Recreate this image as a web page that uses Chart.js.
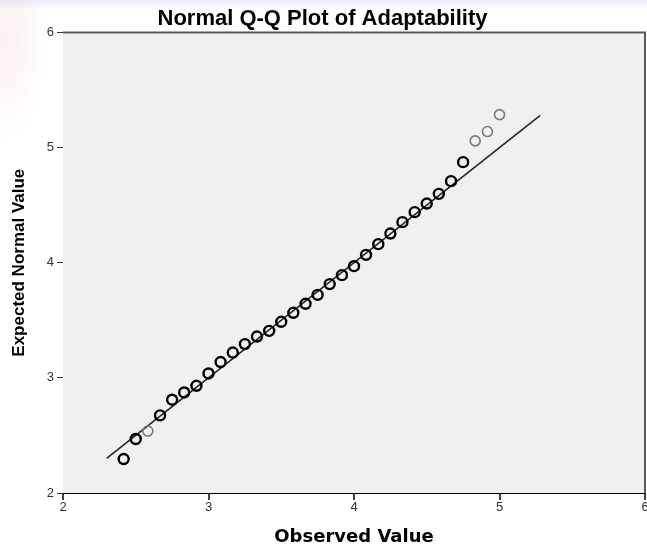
<!DOCTYPE html>
<html>
<head>
<meta charset="utf-8">
<script src="https://cdn.jsdelivr.net/npm/chart.js@4/dist/chart.umd.min.js"></script>
<style>
  html, body { margin: 0; padding: 0; overflow: hidden; }
  body {
    background:
      radial-gradient(ellipse 40px 100px at 6px 40px, rgba(235, 170, 180, 0.2), rgba(255, 255, 255, 0)),
      linear-gradient(to bottom, rgba(205, 215, 235, 0.45) 0, rgba(255, 255, 255, 0) 10px),
      #fff;
  }
  #wrap { width: 647px; height: 546px; position: relative; }
</style>
</head>
<body>
<div id="wrap"><canvas id="qq"></canvas></div>
<script>
// observed values (steps of 1/12) and their expected normal values
const observed = [2.417, 2.5, 2.583, 2.667, 2.75, 2.833, 2.917, 3.0, 3.083, 3.167, 3.25,
  3.333, 3.417, 3.5, 3.583, 3.667, 3.75, 3.833, 3.917, 4.0, 4.083, 4.167, 4.25, 4.333,
  4.417, 4.5, 4.583, 4.667, 4.75, 4.833, 4.917, 5.0];
const expected = [2.295, 2.469, 2.538, 2.674, 2.81, 2.873, 2.931, 3.038, 3.137, 3.22, 3.293,
  3.359, 3.408, 3.487, 3.565, 3.643, 3.721, 3.814, 3.892, 3.97, 4.068, 4.161, 4.253, 4.352,
  4.439, 4.514, 4.598, 4.708, 4.873, 5.058, 5.139, 5.286];
// reference line y = x
const lineX = [2.3, 5.28];
const lineY = [2.3, 5.28];
const axisTicks = [2, 3, 4, 5, 6];

// points drawn lighter in the original
const lightIdx = [2, 29, 30, 31];

const pts = observed.map((x, i) => ({ x: x, y: expected[i] }));
const linePts = lineX.map((x, i) => ({ x: x, y: lineY[i] }));
const ptColors = observed.map((_, i) => lightIdx.includes(i) ? '#7a7a7a' : '#000');
const ptWidths = observed.map((_, i) => lightIdx.includes(i) ? 1.6 : 2.4);

// grey plot background plus the darker top/right frame
const plotFrame = {
  id: 'plotFrame',
  beforeDatasetsDraw(chart) {
    const { ctx, chartArea: a } = chart;
    ctx.save();
    ctx.fillStyle = '#f0f0f0';
    ctx.fillRect(a.left, a.top, a.right - a.left, a.bottom - a.top);
    ctx.restore();
  },
  afterDraw(chart) {
    const { ctx, chartArea: a } = chart;
    ctx.save();
    ctx.strokeStyle = '#5a5a5a';
    ctx.lineWidth = 2;
    ctx.beginPath();
    ctx.moveTo(a.left, a.top);
    ctx.lineTo(a.right, a.top);
    ctx.lineTo(a.right, a.bottom);
    ctx.stroke();
    ctx.restore();
  }
};

const tickFont = { family: 'Liberation Sans', size: 13 };

new Chart(document.getElementById('qq'), {
  type: 'scatter',
  data: {
    datasets: [{
      label: 'Observed',
      data: pts,
      pointStyle: 'circle',
      pointRadius: 5,
      pointHoverRadius: 5,
      borderColor: ptColors,
      borderWidth: ptWidths,
      backgroundColor: 'rgba(0,0,0,0)',
      order: 1
    }, {
      type: 'line',
      label: 'Line',
      data: linePts,
      borderColor: '#222',
      borderWidth: 1.5,
      pointRadius: 0,
      fill: false,
      order: 2
    }]
  },
  options: {
    responsive: true,
    maintainAspectRatio: false,
    animation: false,
    layout: { autoPadding: false, padding: { left: 0, right: 2, top: 0, bottom: 0 } },
    plugins: {
      legend: { display: false },
      tooltip: { enabled: false },
      title: {
        display: true,
        text: 'Normal Q-Q Plot of Adaptability',
        color: '#000',
        font: { family: 'Liberation Sans', size: 22, weight: 'bold' },
        padding: { top: 6, bottom: 0 }
      }
    },
    scales: {
      x: {
        type: 'linear',
        min: 2, max: 6,
        afterBuildTicks: s => { s.ticks = axisTicks.map(v => ({ value: v })); },
        afterFit: s => { s.height = 53; s.paddingLeft = 0; s.paddingRight = 0; },
        border: { color: '#000', width: 1 },
        grid: { drawOnChartArea: false, drawTicks: true, tickLength: 7, color: '#444', lineWidth: 2 },
        ticks: { color: '#333', font: tickFont, padding: 0, maxRotation: 0 },
        title: {
          display: true,
          text: 'Observed Value',
          color: '#000',
          font: { family: 'DejaVu Sans', size: 18, weight: 'bold' },
          padding: { top: 0, bottom: -2 }
        }
      },
      y: {
        type: 'linear',
        min: 2, max: 6,
        afterBuildTicks: s => { s.ticks = axisTicks.map(v => ({ value: v })); },
        afterFit: s => { s.width = 63; s.paddingTop = 0; s.paddingBottom = 0; },
        border: { color: '#000', width: 1 },
        grid: { drawOnChartArea: false, drawTicks: true, tickLength: 6, color: '#333', lineWidth: 1 },
        ticks: { color: '#333', font: tickFont, padding: 3 },
        title: {
          display: true,
          text: 'Expected Normal Value',
          color: '#000',
          font: { family: 'Liberation Sans', size: 17, weight: 'bold' },
          padding: { top: 9, bottom: 0 }
        }
      }
    }
  },
  plugins: [plotFrame]
});
</script>
</body>
</html>
